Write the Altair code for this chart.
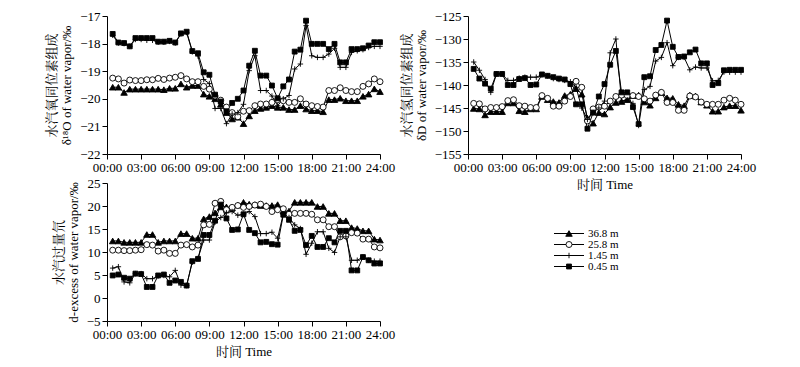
import altair as alt
import pandas as pd

TIME = [0.5, 1.0, 1.5, 2.0, 2.5, 3.0, 3.5, 4.0, 4.5, 5.0, 5.5, 6.0,
        6.5, 7.0, 7.5, 8.0, 8.5, 9.0, 9.5, 10.0, 10.5, 11.0, 11.5, 12.0,
        12.5, 13.0, 13.5, 14.0, 14.5, 15.0, 15.5, 16.0, 16.5, 17.0, 17.5, 18.0,
        18.5, 19.0, 19.5, 20.0, 20.5, 21.0, 21.5, 22.0, 22.5, 23.0, 23.5, 24.0]
SERIES = ["36.8 m", "25.8 m", "1.45 m", "0.45 m"]

O18_368 = [-19.58, -19.58, -19.77, -19.65, -19.65, -19.65, -19.65, -19.65, -19.65, -19.67, -19.62, -19.62,
           -19.46, -19.58, -19.52, -19.52, -19.83, -19.91, -20.0, -20.2, -20.5, -20.73, -20.67, -20.9,
           -20.62, -20.43, -20.35, -20.31, -20.25, -20.31, -20.31, -20.39, -20.39, -20.25, -20.37, -20.43,
           -20.43, -20.47, -20.03, -20.03, -19.98, -20.07, -20.07, -20.07, -19.91, -19.83, -19.64, -19.74]
O18_258 = [-19.25, -19.28, -19.43, -19.32, -19.34, -19.34, -19.31, -19.31, -19.26, -19.3, -19.25, -19.22,
           -19.16, -19.28, -19.38, -19.38, -19.55, -19.65, -19.9, -20.05, -20.3, -20.5, -20.65, -20.45,
           -20.43, -20.25, -20.19, -20.19, -20.13, -20.03, -20.07, -20.13, -20.13, -20.0, -20.19, -20.25,
           -20.28, -20.3, -19.7, -19.7, -19.6, -19.7, -19.74, -19.74, -19.55, -19.46, -19.28, -19.38]
O18_145 = [-17.7, -17.98, -18.0, -18.1, -17.85, -17.85, -17.88, -17.88, -17.95, -17.95, -17.92, -17.98,
           -17.65, -17.6, -18.3, -18.45, -19.3, -19.45, -20.35, -20.35, -20.9, -20.55, -20.5, -20.2,
           -18.98, -18.44, -19.7, -19.7, -19.9, -20.25, -20.0, -19.88, -18.92, -18.74, -17.35, -18.44,
           -18.5, -18.5, -18.38, -18.17, -18.86, -18.86, -18.32, -18.26, -18.22, -18.14, -18.1, -18.1]
O18_045 = [-17.65, -17.96, -17.98, -18.1, -17.8, -17.8, -17.8, -17.8, -17.93, -17.93, -17.9, -17.96,
           -17.63, -17.57, -18.27, -18.35, -19.04, -19.13, -19.85, -20.1, -20.45, -20.15, -20.0, -19.7,
           -18.8, -18.26, -19.16, -19.16, -19.52, -19.98, -19.55, -19.3, -18.29, -18.22, -17.17, -18.01,
           -18.01, -18.01, -18.2, -18.01, -18.68, -18.68, -18.2, -18.2, -18.17, -18.07, -17.95, -17.95]

D_368 = [-145.1, -145.2, -146.5, -145.8, -145.8, -145.8, -143.9, -143.9, -145.6, -145.8, -145.2, -145.2,
         -142.5, -143.2, -143.6, -143.8, -142.3, -142.0, -140.8, -142.0, -147.2, -148.3, -146.0, -146.3,
         -144.8, -143.8, -143.6, -143.2, -142.3, -142.2, -143.7, -144.4, -142.8, -141.6, -142.8, -142.9,
         -144.2, -144.5, -142.2, -142.4, -143.7, -144.4, -145.7, -145.7, -144.8, -144.5, -144.5, -145.5]
D_258 = [-144.0, -144.1, -145.2, -144.9, -144.9, -144.7, -143.4, -143.2, -144.5, -144.6, -144.9, -144.9,
         -142.3, -142.9, -144.6, -144.6, -143.5, -142.5, -139.2, -140.5, -147.8, -145.2, -144.8, -144.6,
         -143.5, -142.5, -142.2, -142.3, -142.3, -142.5, -143.0, -143.5, -142.2, -141.6, -143.8, -143.8,
         -145.5, -145.5, -142.4, -142.6, -143.7, -144.2, -144.2, -144.2, -143.3, -142.9, -143.3, -144.2]
D_145 = [-135.0, -136.8, -138.8, -141.6, -137.6, -137.6, -139.0, -139.0, -138.5, -138.3, -138.3, -138.3,
         -137.8, -138.0, -138.6, -138.8, -139.0, -139.3, -140.5, -145.0, -147.5, -146.0, -145.0, -143.5,
         -133.0, -130.0, -143.5, -143.2, -144.0, -148.8, -141.0, -140.3, -134.8, -134.0, -130.8, -135.8,
         -134.0, -134.0, -136.7, -136.1, -136.3, -136.3, -139.1, -139.0, -137.2, -137.2, -137.2, -137.2]
D_045 = [-136.5, -138.6, -139.7, -140.8, -137.6, -137.6, -140.0, -140.0, -138.7, -138.5, -140.0, -139.9,
         -137.7, -138.0, -138.3, -138.6, -138.8, -139.8, -144.2, -144.2, -149.5, -146.0, -142.5, -139.8,
         -135.6, -132.6, -141.6, -141.6, -144.8, -148.5, -138.3, -138.1, -132.4, -131.3, -126.0, -131.7,
         -133.9, -133.8, -132.9, -132.3, -135.3, -135.3, -140.0, -139.6, -136.8, -136.7, -136.7, -136.7]

DX_368 = [12.4, 12.4, 12.1, 12.1, 12.1, 12.1, 13.8, 13.8, 12.1, 12.4, 12.4, 12.4,
          14.0, 14.0, 13.0, 13.0, 17.2, 17.7, 18.5, 19.8, 19.8, 19.6, 20.2, 20.8,
          20.4, 20.3, 20.1, 20.1, 20.1, 20.3, 18.9, 18.9, 20.8, 20.8, 20.8, 20.8,
          19.9, 19.9, 18.4, 18.4, 16.8, 16.8, 15.3, 15.1, 14.6, 14.6, 12.8, 12.6]
DX_258 = [10.4, 10.4, 10.3, 10.3, 10.4, 10.5, 11.6, 11.5, 10.2, 10.4, 9.7, 9.7,
          11.5, 11.6, 11.1, 11.5, 15.9, 16.0, 20.6, 21.0, 19.2, 19.7, 20.1, 19.7,
          19.9, 20.2, 20.4, 19.9, 18.8, 19.2, 19.4, 18.2, 18.4, 18.4, 18.4, 18.2,
          17.0, 17.0, 15.5, 15.5, 13.3, 13.5, 14.2, 14.1, 12.8, 12.8, 11.1, 10.9]
DX_145 = [6.5, 6.8, 3.5, 3.3, 5.3, 5.3, 4.2, 4.2, 4.8, 4.9, 4.6, 6.0,
          2.8, 2.7, 7.8, 8.6, 12.6, 12.6, 16.5, 17.5, 18.5, 18.8, 18.0, 18.2,
          18.8, 17.7, 14.0, 14.0, 14.3, 13.0, 18.3, 17.5, 15.9, 15.1, 9.5, 11.9,
          14.4, 14.4, 10.8, 9.9, 13.3, 13.3, 8.2, 8.2, 8.9, 8.2, 8.0, 8.0]
DX_045 = [4.9, 5.1, 4.4, 4.2, 5.3, 5.2, 2.4, 2.4, 4.9, 5.1, 3.3, 3.8,
          3.5, 2.7, 8.0, 8.5, 13.7, 13.7, 16.8, 20.3, 17.3, 14.8, 14.9, 18.2,
          14.8, 14.1, 12.1, 12.2, 11.7, 11.6, 18.1, 17.0, 14.6, 14.8, 11.5, 13.5,
          11.1, 11.1, 13.0, 12.1, 14.6, 14.6, 6.0, 6.0, 8.9, 8.2, 7.5, 7.5]

X_TICKS = [0, 3, 6, 9, 12, 15, 18, 21, 24]
FONT = "'Liberation Serif', 'Noto Serif CJK SC', 'Noto Sans CJK SC', serif"

SHAPES = ["triangle-up", "circle", "M-1,0H1M0,-1V1", "square"]
FILLS = ["black", "white", "black", "black"]
SIZES = [42, 24, 50, 30]


def long_df(lists):
    rows = []
    for s, vals in zip(SERIES, lists):
        for t, v in zip(TIME, vals):
            rows.append({"t": t, "v": v, "s": s})
    return pd.DataFrame(rows)


shape_enc = alt.Shape("s:N", scale=alt.Scale(domain=SERIES, range=SHAPES), legend=None)
fill_enc = alt.Fill("s:N", scale=alt.Scale(domain=SERIES, range=FILLS), legend=None)
size_enc = alt.Size("s:N", scale=alt.Scale(domain=SERIES, range=SIZES), legend=None)


def panel(df, ydom, yvals, ytitle, xtitle):
    xaxis = dict(values=X_TICKS,
                 labelExpr="(datum.value < 10 ? '0' : '') + datum.value + ':00'",
                 labelFlush=False, labelOverlap=False)
    if xtitle:
        xaxis["title"] = xtitle
        xaxis["titlePadding"] = 4
    else:
        xaxis["title"] = None
    x = alt.X("t:Q", scale=alt.Scale(domain=[0, 24], nice=False), axis=alt.Axis(**xaxis))
    y = alt.Y("v:Q", scale=alt.Scale(domain=ydom, nice=False, zero=False),
              axis=alt.Axis(values=yvals, title=ytitle, titlePadding=6, labelPadding=2))
    base = alt.Chart(df)
    lines = base.mark_line(color="black", strokeWidth=1).encode(x=x, y=y, detail="s:N")
    pts = base.mark_point(filled=True, stroke="black", strokeWidth=0.9, opacity=1).encode(
        x=x, y=y, shape=shape_enc, fill=fill_enc, size=size_enc)
    return alt.layer(lines, pts).properties(width=273, height=138)


p1 = panel(long_df([O18_368, O18_258, O18_145, O18_045]), [-22, -17], [-22, -21, -20, -19, -18, -17],
           ["水汽氧同位素组成", "δ¹⁸O of water vapor/‰"], None)
p2 = panel(long_df([D_368, D_258, D_145, D_045]), [-155, -125], [-155, -150, -145, -140, -135, -130, -125],
           ["水汽氢同位素组成", "δD of water vapor/‰"], "时间 Time")
p3 = panel(long_df([DX_368, DX_258, DX_145, DX_045]), [-5, 25], [-5, 0, 5, 10, 15, 20, 25],
           ["水汽过量氘", "d-excess of water vapor/‰"], "时间 Time")

leg_df = pd.DataFrame({"s": SERIES})
ly = alt.Y("s:N", sort=SERIES, axis=None, scale=alt.Scale(domain=SERIES, paddingInner=0, paddingOuter=0))
lbase = alt.Chart(leg_df)
lrule = lbase.mark_rule(color="black", strokeWidth=1).encode(y=ly, x=alt.value(86), x2=alt.value(116))
lpts = lbase.mark_point(filled=True, stroke="black", strokeWidth=0.9, opacity=1).encode(
    y=ly, x=alt.value(101), shape=shape_enc, fill=fill_enc, size=size_enc)
ltxt = lbase.mark_text(align="left", baseline="middle", font=FONT, fontSize=11, color="black").encode(
    y=ly, x=alt.value(120), text="s:N")
legend = alt.layer(lrule, lpts, ltxt).properties(width=180, height=44)

left = alt.vconcat(p1, p3, spacing=3)
right = alt.vconcat(p2, legend, spacing=36)

chart = alt.hconcat(left, right, spacing=5).properties(
    padding={"left": 37, "top": 2, "right": 5, "bottom": 5}
).configure_view(strokeWidth=0).configure_axis(
    domainColor="black", tickColor="black", labelColor="black", titleColor="black",
    labelFont=FONT, titleFont=FONT, labelFontSize=13, titleFontSize=13,
    titleFontWeight="normal", domainWidth=1, tickWidth=1, tickSize=5, grid=False
).configure_concat(spacing=8)

chart.save("out.html", embed_options={"renderer": "svg", "actions": False})
